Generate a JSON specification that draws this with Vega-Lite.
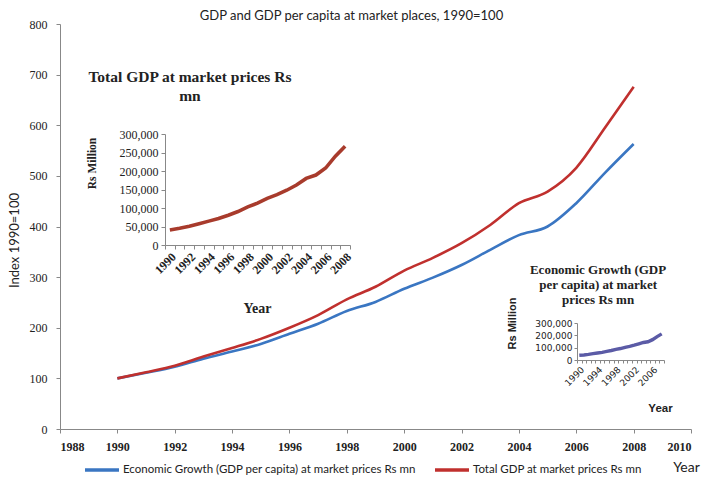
{
  "$schema": "https://vega.github.io/schema/vega-lite/v6.json",
  "width": 631,
  "height": 405,
  "autosize": {"type": "none"},
  "padding": {"left": 60, "top": 24, "right": 13, "bottom": 56},
  "background": "white",
  "title": {"text": "GDP and GDP per capita at market places, 1990=100", "font": "Lato", "fontSize": 13, "fontWeight": "normal", "color": "#222", "anchor": "middle", "frame": "group", "offset": -5, "dx": -24},
  "datasets": {
    "main": [
      {"year": 1990, "series": "Economic Growth (GDP per capita) at market prices Rs mn", "value": 100},
      {"year": 1991, "series": "Economic Growth (GDP per capita) at market prices Rs mn", "value": 111},
      {"year": 1992, "series": "Economic Growth (GDP per capita) at market prices Rs mn", "value": 123},
      {"year": 1993, "series": "Economic Growth (GDP per capita) at market prices Rs mn", "value": 139},
      {"year": 1994, "series": "Economic Growth (GDP per capita) at market prices Rs mn", "value": 153},
      {"year": 1995, "series": "Economic Growth (GDP per capita) at market prices Rs mn", "value": 168},
      {"year": 1996, "series": "Economic Growth (GDP per capita) at market prices Rs mn", "value": 188},
      {"year": 1997, "series": "Economic Growth (GDP per capita) at market prices Rs mn", "value": 208},
      {"year": 1998, "series": "Economic Growth (GDP per capita) at market prices Rs mn", "value": 233},
      {"year": 1999, "series": "Economic Growth (GDP per capita) at market prices Rs mn", "value": 251},
      {"year": 2000, "series": "Economic Growth (GDP per capita) at market prices Rs mn", "value": 277},
      {"year": 2001, "series": "Economic Growth (GDP per capita) at market prices Rs mn", "value": 299},
      {"year": 2002, "series": "Economic Growth (GDP per capita) at market prices Rs mn", "value": 324},
      {"year": 2003, "series": "Economic Growth (GDP per capita) at market prices Rs mn", "value": 354},
      {"year": 2004, "series": "Economic Growth (GDP per capita) at market prices Rs mn", "value": 383},
      {"year": 2005, "series": "Economic Growth (GDP per capita) at market prices Rs mn", "value": 400},
      {"year": 2006, "series": "Economic Growth (GDP per capita) at market prices Rs mn", "value": 446},
      {"year": 2007, "series": "Economic Growth (GDP per capita) at market prices Rs mn", "value": 506},
      {"year": 2008, "series": "Economic Growth (GDP per capita) at market prices Rs mn", "value": 563},
      {"year": 1990, "series": "Total GDP at market prices Rs mn", "value": 100},
      {"year": 1991, "series": "Total GDP at market prices Rs mn", "value": 112},
      {"year": 1992, "series": "Total GDP at market prices Rs mn", "value": 125},
      {"year": 1993, "series": "Total GDP at market prices Rs mn", "value": 143},
      {"year": 1994, "series": "Total GDP at market prices Rs mn", "value": 160},
      {"year": 1995, "series": "Total GDP at market prices Rs mn", "value": 178},
      {"year": 1996, "series": "Total GDP at market prices Rs mn", "value": 200},
      {"year": 1997, "series": "Total GDP at market prices Rs mn", "value": 225},
      {"year": 1998, "series": "Total GDP at market prices Rs mn", "value": 256},
      {"year": 1999, "series": "Total GDP at market prices Rs mn", "value": 281},
      {"year": 2000, "series": "Total GDP at market prices Rs mn", "value": 313},
      {"year": 2001, "series": "Total GDP at market prices Rs mn", "value": 338},
      {"year": 2002, "series": "Total GDP at market prices Rs mn", "value": 367},
      {"year": 2003, "series": "Total GDP at market prices Rs mn", "value": 403},
      {"year": 2004, "series": "Total GDP at market prices Rs mn", "value": 446},
      {"year": 2005, "series": "Total GDP at market prices Rs mn", "value": 469},
      {"year": 2006, "series": "Total GDP at market prices Rs mn", "value": 516},
      {"year": 2007, "series": "Total GDP at market prices Rs mn", "value": 595},
      {"year": 2008, "series": "Total GDP at market prices Rs mn", "value": 676}
    ],
    "inset1": [
      {"year": 1990, "gdp": 40500}, {"year": 1991, "gdp": 45000}, {"year": 1992, "gdp": 50500},
      {"year": 1993, "gdp": 57500}, {"year": 1994, "gdp": 64500}, {"year": 1995, "gdp": 71500},
      {"year": 1996, "gdp": 80500}, {"year": 1997, "gdp": 90500}, {"year": 1998, "gdp": 103000},
      {"year": 1999, "gdp": 113000}, {"year": 2000, "gdp": 126000}, {"year": 2001, "gdp": 136000},
      {"year": 2002, "gdp": 148000}, {"year": 2003, "gdp": 162000}, {"year": 2004, "gdp": 180000},
      {"year": 2005, "gdp": 189000}, {"year": 2006, "gdp": 208000}, {"year": 2007, "gdp": 240000},
      {"year": 2008, "gdp": 267000}
    ],
    "inset2": [
      {"year": 1990, "pc": 38000}, {"year": 1991, "pc": 41000}, {"year": 1992, "pc": 45500},
      {"year": 1993, "pc": 51500}, {"year": 1994, "pc": 56500}, {"year": 1995, "pc": 62000},
      {"year": 1996, "pc": 69500}, {"year": 1997, "pc": 77000}, {"year": 1998, "pc": 86000},
      {"year": 1999, "pc": 93000}, {"year": 2000, "pc": 103000}, {"year": 2001, "pc": 110000},
      {"year": 2002, "pc": 120000}, {"year": 2003, "pc": 131000}, {"year": 2004, "pc": 142000},
      {"year": 2005, "pc": 148000}, {"year": 2006, "pc": 165000}, {"year": 2007, "pc": 190000},
      {"year": 2008, "pc": 212000}
    ],
    "one": [{}]
  },
  "layer": [
    {
      "layer": [
        {
          "data": {"name": "main"},
          "mark": {"type": "line", "strokeWidth": 2.6, "interpolate": "monotone"},
          "encoding": {
            "x": {"field": "year", "type": "quantitative", "scale": {"domain": [1988, 2010], "nice": false, "zero": false},
                  "axis": {"values": [1988,1990,1992,1994,1996,1998,2000,2002,2004,2006,2008,2010], "format": "d", "labelFont": "Liberation Serif", "labelFontWeight": "bold", "labelFontSize": 12, "labelColor": "#222", "labelPadding": 8, "tickSize": 4, "domainColor": "#888", "tickColor": "#888", "grid": false,
                           "title": "Year", "titleFont": "Lato", "titleFontSize": 14, "titleFontWeight": "normal", "titleColor": "#222", "titleX": 626, "titleY": 38, "titleBaseline": "middle", "titleAlign": "center"}},
            "y": {"field": "value", "type": "quantitative", "scale": {"domain": [0, 800], "nice": false},
                  "axis": {"values": [0,100,200,300,400,500,600,700,800], "labelFont": "Liberation Serif", "labelFontSize": 12, "labelColor": "#222", "labelPadding": 9, "tickSize": 4, "domainColor": "#888", "tickColor": "#888", "grid": false,
                           "title": "Index 1990=100", "titleFont": "Lato", "titleFontSize": 13, "titleFontWeight": "normal", "titleColor": "#222", "titleX": -46, "titleY": 216, "titleBaseline": "middle", "titleAngle": -90}},
            "color": {"field": "series", "type": "nominal",
                      "scale": {"domain": ["Economic Growth (GDP per capita) at market prices Rs mn", "Total GDP at market prices Rs mn"], "range": ["#3a76c2", "#c0302e"]},
                      "legend": {"title": null, "orient": "none", "legendX": 23, "legendY": 427, "direction": "horizontal", "symbolType": "stroke", "symbolSize": 1156, "symbolStrokeWidth": 3.5, "labelFont": "Lato", "labelFontSize": 11.5, "labelColor": "#222", "labelOffset": 2, "columnPadding": 12, "labelLimit": 400}}
          }
        },
        {
          "data": {"name": "one"},
          "mark": {"type": "text", "font": "Liberation Serif", "fontWeight": "bold", "fontSize": 15.5, "lineHeight": 19, "align": "center", "baseline": "top", "color": "#222"},
          "encoding": {
            "x": {"datum": 1992.53, "type": "quantitative"},
            "y": {"datum": 709, "type": "quantitative"},
            "text": {"value": ["Total GDP at market prices Rs", "mn"]}
          }
        },
        {
          "data": {"name": "one"},
          "mark": {"type": "text", "font": "Liberation Serif", "fontWeight": "bold", "fontSize": 13, "lineHeight": 15, "align": "center", "baseline": "top", "color": "#222"},
          "encoding": {
            "x": {"datum": 2006.76, "type": "quantitative"},
            "y": {"datum": 325, "type": "quantitative"},
            "text": {"value": ["Economic Growth (GDP", "per capita) at market", "prices Rs mn"]}
          }
        }
      ]
    },
    {
      "data": {"name": "inset1"},
      "mark": {"type": "line", "strokeWidth": 3.6, "color": "#a83b2c"},
      "encoding": {
        "x": {"field": "year", "type": "ordinal", "bandPosition": 0.5,
              "scale": {"type": "band", "range": [105, 290], "paddingInner": 0, "paddingOuter": 0},
              "axis": {"orient": "bottom", "offset": -184, "tickBand": "extent", "labelAngle": -45, "labelExpr": "datum.value % 2 == 0 ? datum.label : ''", "labelFont": "Liberation Serif", "labelFontWeight": "bold", "labelFontSize": 12, "labelColor": "#222", "tickSize": 4, "domainColor": "#888", "tickColor": "#888", "labelPadding": 2,
                       "title": "Year", "titleFont": "Liberation Serif", "titleFontSize": 14, "titleFontWeight": "bold", "titleColor": "#222", "titleX": 197, "titleY": 63, "titleBaseline": "middle"}},
        "y": {"field": "gdp", "type": "quantitative",
              "scale": {"domain": [0, 300000], "range": [221, 110], "nice": false},
              "axis": {"orient": "left", "offset": -105, "values": [0,50000,100000,150000,200000,250000,300000], "format": ",d", "labelFont": "Liberation Serif", "labelFontSize": 12, "labelColor": "#222", "tickSize": 4, "domainColor": "#888", "tickColor": "#888", "labelPadding": 3, "grid": false,
                       "title": "Rs Million", "titleFont": "Liberation Serif", "titleFontSize": 11.5, "titleFontWeight": "bold", "titleColor": "#222", "titleX": -73, "titleY": 139, "titleBaseline": "middle", "titleAngle": -90}}
      }
    },
    {
      "data": {"name": "inset2"},
      "mark": {"type": "line", "strokeWidth": 3.4, "color": "#5b5ba6"},
      "encoding": {
        "x": {"field": "year", "type": "ordinal", "bandPosition": 0.5,
              "scale": {"type": "band", "range": [517, 604], "paddingInner": 0, "paddingOuter": 0},
              "axis": {"orient": "bottom", "offset": -69, "tickBand": "extent", "labelAngle": -45, "labelExpr": "(datum.value - 1990) % 4 == 0 ? datum.label : ''", "labelFont": "DejaVu Sans", "labelFontSize": 9, "labelColor": "#222", "tickSize": 3, "domainColor": "#888", "tickColor": "#888", "labelPadding": 2,
                       "title": "Year", "titleFont": "Liberation Sans", "titleFontSize": 11.5, "titleFontWeight": "bold", "titleColor": "#222", "titleX": 600, "titleY": 48, "titleBaseline": "middle"}},
        "y": {"field": "pc", "type": "quantitative",
              "scale": {"domain": [0, 300000], "range": [336, 299], "nice": false},
              "axis": {"orient": "left", "offset": -517, "values": [0,100000,200000,300000], "format": ",d", "labelFont": "DejaVu Sans", "labelFontSize": 9, "labelColor": "#222", "tickSize": 3, "domainColor": "#888", "tickColor": "#888", "labelPadding": 2, "grid": false,
                       "title": "Rs Million", "titleFont": "Liberation Sans", "titleFontSize": 11, "titleFontWeight": "bold", "titleColor": "#222", "titleX": -65, "titleY": 299, "titleBaseline": "middle", "titleAngle": -90}}
      }
    }
  ],
  "resolve": {"scale": {"x": "independent", "y": "independent"}, "axis": {"x": "independent", "y": "independent"}},
  "config": {"view": {"stroke": null}, "axis": {"grid": false}}
}
